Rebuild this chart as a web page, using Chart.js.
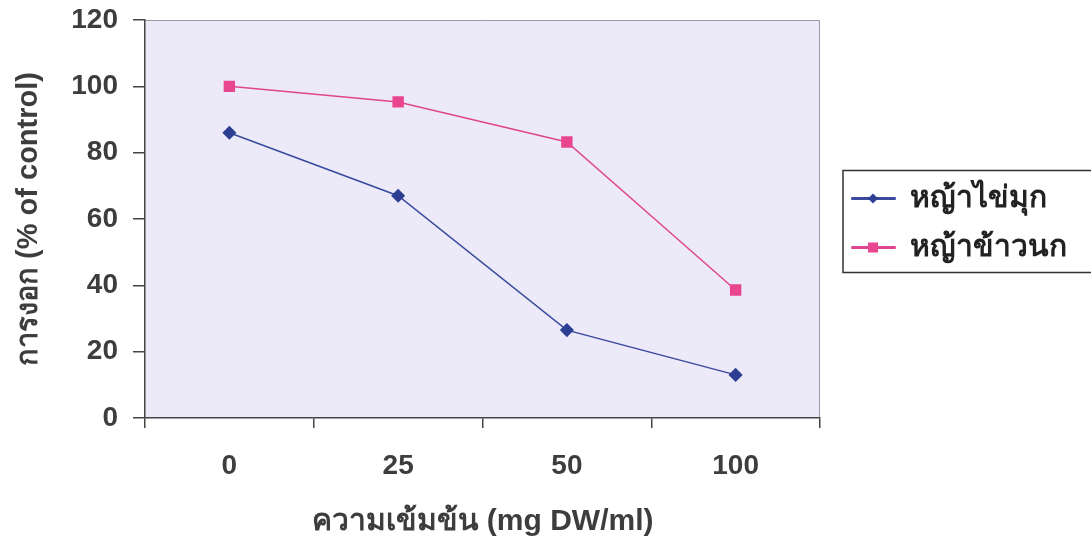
<!DOCTYPE html>
<html><head><meta charset="utf-8">
<script src="https://cdn.jsdelivr.net/npm/chart.js@4"></script>
<style>html,body{margin:0;padding:0;background:#fff;}#wrap{width:1091px;height:546px;}</style>
</head><body><div id="wrap"><canvas id="c" width="1091" height="546"></canvas></div>
<script>
const categories = ['0', '25', '50', '100'];
const seriesNames = ['หญ้าไข่มุก', 'หญ้าข้าวนก'];
const pearlGrass = [86, 67, 26.5, 13];
const birdRiceGrass = [100, 95.3, 83.2, 38.6];
const yTicks = [0, 20, 40, 60, 80, 100, 120];
const xTitle = 'ความเข้มข้น (mg DW/ml)';
const yTitle = 'การงอก (% of control)';

const FONT = "'Liberation Sans', Arial, 'Noto Sans', sans-serif";
const TXT = '#3d3d3d';

const plotBg = {
  id: 'plotBg',
  afterInit(chart) {
    const lg = chart.legend;
    if (lg) {
      const origFit = lg.fit;
      lg.fit = function () { origFit.call(this); this.width = 271; };
    }
  },
  afterLayout(chart) {
    const lg = chart.legend;
    if (lg) { lg.left += 13; lg.right += 13; lg.top -= 57; lg.bottom -= 57; }
  },
  beforeDraw(chart) {
    const {ctx, chartArea: a} = chart;
    ctx.save();
    ctx.fillStyle = '#eceaf8';
    ctx.fillRect(a.left, a.top, a.right - a.left, a.bottom - a.top);
    ctx.strokeStyle = '#9a9aa4';
    ctx.lineWidth = 1;
    ctx.beginPath();
    ctx.moveTo(a.left, a.top + 0.5); ctx.lineTo(a.right - 0.5, a.top + 0.5); ctx.lineTo(a.right - 0.5, a.bottom);
    ctx.stroke();
    ctx.restore();
  },
  afterDraw(chart) {
    const lg = chart.legend;
    if (!lg || !lg.legendHitBoxes || !lg.legendHitBoxes.length) return;
    const ctx = chart.ctx;
    const hbs = lg.legendHitBoxes;
    const last = hbs[hbs.length - 1];
    const top = hbs[0].top + hbs[0].height / 2 - 28;
    const bottom = last.top + last.height / 2 + 25;
    ctx.save();
    ctx.strokeStyle = '#333';
    ctx.lineWidth = 1.5;
    ctx.strokeRect(hbs[0].left - 9, top, 300, bottom - top);
    hbs.forEach((hb, i) => {
      const ds = chart.data.datasets[i];
      const cx = hb.left + 21, cy = hb.top + hb.height / 2;
      ctx.fillStyle = ds.pointBackgroundColor;
      ctx.beginPath();
      if (ds.pointStyle === 'rectRot') {
        const r = 5;
        ctx.moveTo(cx, cy - r); ctx.lineTo(cx + r, cy); ctx.lineTo(cx, cy + r); ctx.lineTo(cx - r, cy);
      } else {
        ctx.rect(cx - 5, cy - 5, 10, 10);
      }
      ctx.closePath();
      ctx.fill();
    });
    ctx.restore();
  }
};

new Chart(document.getElementById('c'), {
  type: 'line',
  data: {
    labels: categories,
    datasets: [
      { label: seriesNames[0], data: pearlGrass, borderColor: '#3a4a9c', backgroundColor: '#3a4a9c',
        pointBackgroundColor: '#2d3f92', pointBorderColor: '#2d3f92', pointStyle: 'rectRot', pointRadius: 6,
        borderWidth: 1.5, tension: 0 },
      { label: seriesNames[1], data: birdRiceGrass, borderColor: '#e0468f', backgroundColor: '#e0468f',
        pointBackgroundColor: '#e8468f', pointBorderColor: '#e8468f', pointStyle: 'rect', pointRadius: 7,
        borderWidth: 1.5, tension: 0 }
    ]
  },
  options: {
    responsive: false,
    animation: false,
    devicePixelRatio: 1,
    layout: { padding: { left: 12, top: 20, right: 0, bottom: 6 } },
    plugins: {
      legend: {
        position: 'right',
        labels: {
          boxWidth: 43, boxHeight: 1.5, padding: 19,
          color: '#222', font: { family: FONT, size: 30, weight: 'bold' }
        }
      },
      tooltip: { enabled: false }
    },
    scales: {
      x: {
        offset: true,
        afterFit(scale) { scale.height = 122; scale.paddingLeft = 0; scale.paddingRight = 0; },
        grid: { offset: true, drawOnChartArea: false, drawTicks: true, tickLength: 10, color: '#444', lineWidth: 1.5 },
        border: { color: '#444', width: 1.5 },
        ticks: { color: TXT, padding: 21, font: { family: FONT, size: 28, weight: 'bold' } },
        title: { display: true, text: xTitle, color: TXT, padding: { top: 0, bottom: 0 }, font: { family: FONT, size: 30, weight: 'bold' } }
      },
      y: {
        min: 0, max: 120,
        afterFit(scale) { scale.width = 133; scale.paddingTop = 0; scale.paddingBottom = 0; },
        afterBuildTicks(scale) { scale.ticks = yTicks.map(v => ({ value: v })); },
        grid: { drawOnChartArea: false, drawTicks: true, tickLength: 12, color: '#444', lineWidth: 1.5 },
        border: { color: '#444', width: 1.5 },
        ticks: { color: TXT, padding: 15, font: { family: FONT, size: 28, weight: 'bold' } },
        title: { display: true, text: yTitle, color: TXT, padding: { top: 0, bottom: 0 }, font: { family: FONT, size: 29, weight: 'bold' } }
      }
    }
  },
  plugins: [plotBg]
});
</script></body></html>
